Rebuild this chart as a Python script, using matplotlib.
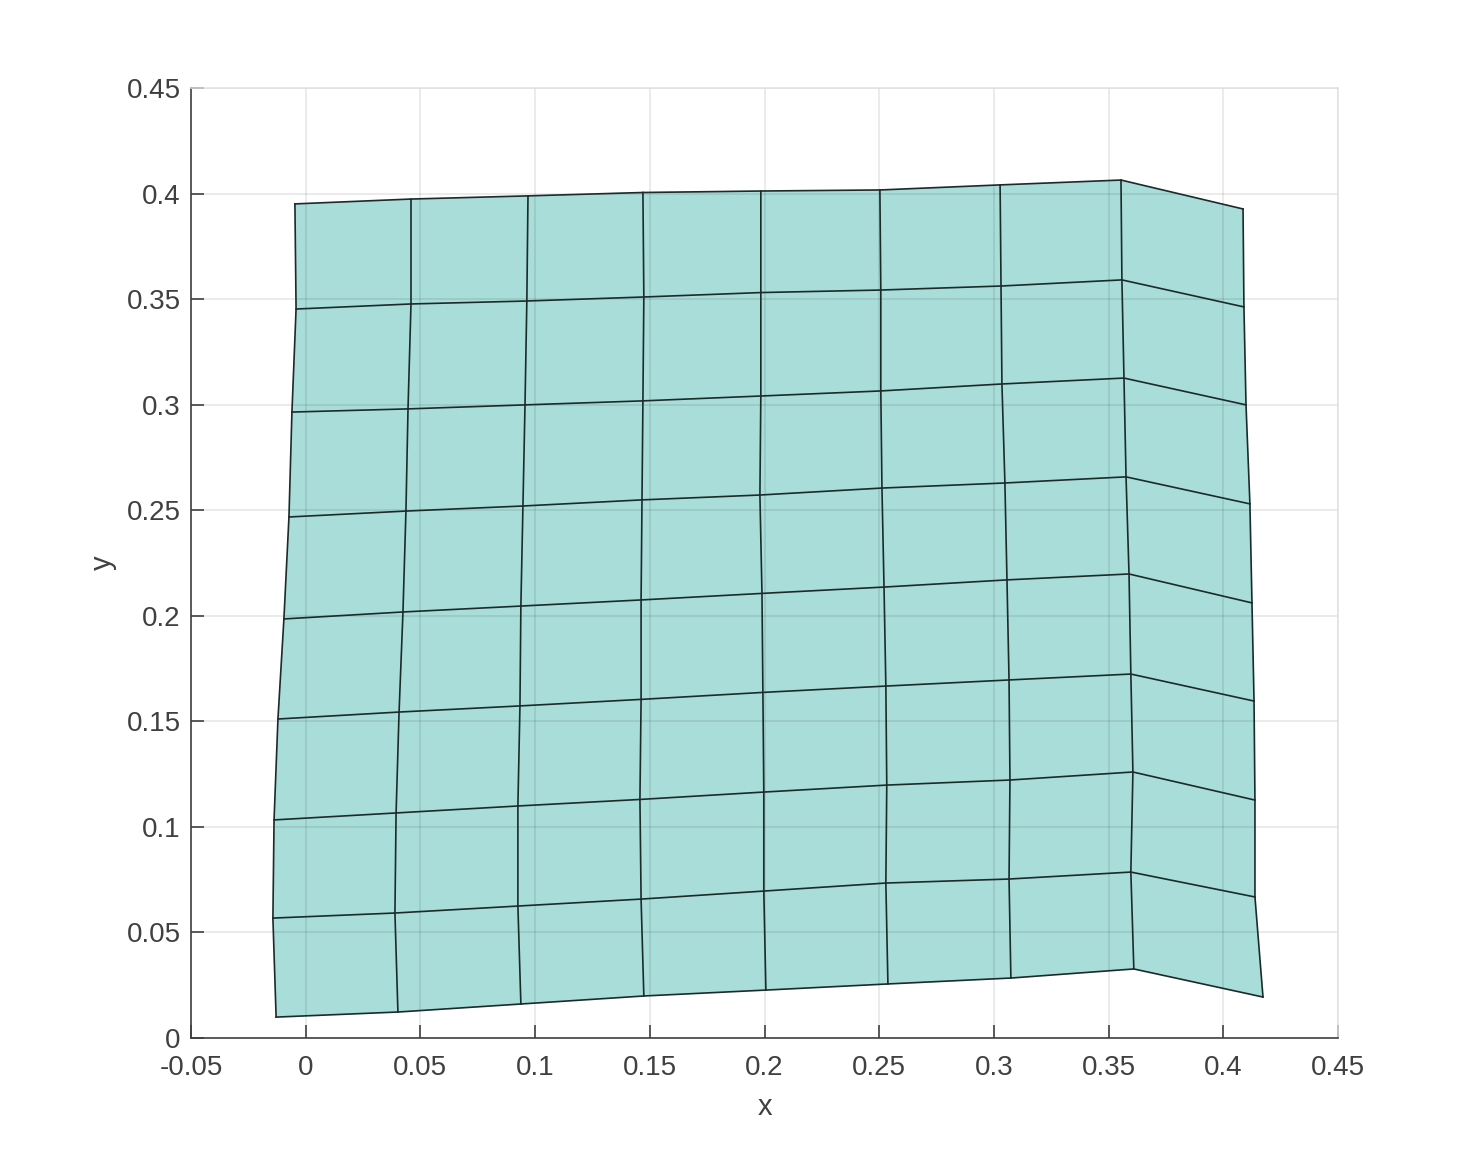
# Deformed quad mesh, nodes
import numpy as np
import matplotlib
matplotlib.use("Agg")
import matplotlib.pyplot as plt
from matplotlib.colors import ListedColormap

plt.rcParams['font.family'] = ['Liberation Sans', 'DejaVu Sans']

# mesh nodes, one row per line of nodes (bottom to top)
x0 = [-0.0129, 0.0402, 0.0938, 0.1474, 0.2006, 0.2538, 0.3074, 0.3610, 0.4173]
x1 = [-0.0143, 0.0389, 0.0925, 0.1462, 0.1997, 0.2529, 0.3066, 0.3597, 0.4138]
x2 = [-0.0138, 0.0394, 0.0925, 0.1457, 0.1997, 0.2533, 0.3070, 0.3606, 0.4138]
x3 = [-0.0121, 0.0407, 0.0934, 0.1462, 0.1993, 0.2529, 0.3066, 0.3597, 0.4134]
x4 = [-0.0095, 0.0424, 0.0938, 0.1462, 0.1989, 0.2521, 0.3057, 0.3589, 0.4125]
x5 = [-0.0073, 0.0437, 0.0947, 0.1466, 0.1980, 0.2512, 0.3048, 0.3576, 0.4116]
x6 = [-0.0060, 0.0446, 0.0956, 0.1470, 0.1984, 0.2507, 0.3035, 0.3567, 0.4099]
x7 = [-0.0042, 0.0459, 0.0964, 0.1474, 0.1984, 0.2507, 0.3031, 0.3558, 0.4090]
x8 = [-0.0047, 0.0459, 0.0969, 0.1470, 0.1984, 0.2503, 0.3027, 0.3554, 0.4086]

y0 = [0.0099, 0.0123, 0.0161, 0.0199, 0.0227, 0.0256, 0.0284, 0.0327, 0.0194]
y1 = [0.0568, 0.0592, 0.0625, 0.0658, 0.0696, 0.0734, 0.0753, 0.0786, 0.0668]
y2 = [0.1033, 0.1066, 0.1099, 0.1130, 0.1165, 0.1198, 0.1222, 0.1260, 0.1127]
y3 = [0.1511, 0.1544, 0.1573, 0.1604, 0.1637, 0.1667, 0.1696, 0.1724, 0.1596]
y4 = [0.1985, 0.2018, 0.2046, 0.2075, 0.2106, 0.2136, 0.2170, 0.2198, 0.2061]
y5 = [0.2468, 0.2496, 0.2520, 0.2549, 0.2572, 0.2605, 0.2629, 0.2658, 0.2530]
y6 = [0.2965, 0.2980, 0.2999, 0.3018, 0.3041, 0.3065, 0.3098, 0.3126, 0.2999]
y7 = [0.3453, 0.3477, 0.3491, 0.3510, 0.3531, 0.3543, 0.3562, 0.3591, 0.3463]
y8 = [0.3951, 0.3974, 0.3989, 0.4005, 0.4012, 0.4017, 0.4041, 0.4064, 0.3927]

xticks = [-0.05, 0, 0.05, 0.1, 0.15, 0.2, 0.25, 0.3, 0.35, 0.4, 0.45]
xticklabels = ['-0.05', '0', '0.05', '0.1', '0.15', '0.2', '0.25', '0.3', '0.35', '0.4', '0.45']
yticks = [0, 0.05, 0.1, 0.15, 0.2, 0.25, 0.3, 0.35, 0.4, 0.45]
yticklabels = ['0', '0.05', '0.1', '0.15', '0.2', '0.25', '0.3', '0.35', '0.4', '0.45']

X = np.array([x0, x1, x2, x3, x4, x5, x6, x7, x8])
Y = np.array([y0, y1, y2, y3, y4, y5, y6, y7, y8])

W, H = 1477, 1166
fig = plt.figure(figsize=(W / 100, H / 100), dpi=100)
ax = fig.add_axes([191 / W, 1 - 1038 / H, (1338 - 191) / W, (1038 - 88) / H])

text_col = '#404040'

# cells, then grid on top of the fill, then the mesh lines
ax.pcolormesh(X, Y, np.zeros((8, 8)), cmap=ListedColormap(['#a8ddd9']), shading='flat',
              linewidth=0, antialiased=True, rasterized=False)
ax.set_axisbelow('line')
ax.grid(True, color='black', alpha=0.10, linewidth=1.1)
ax.plot(X, Y, color='#1c2a2a', linewidth=1.2, solid_joinstyle='miter')
ax.plot(X.T, Y.T, color='#1c2a2a', linewidth=1.2, solid_joinstyle='miter')

ax.set_xlim(-0.05, 0.45)
ax.set_ylim(0, 0.45)
ax.set_xticks(xticks, xticklabels)
ax.set_yticks(yticks, yticklabels)
ax.tick_params(direction='in', length=9.2, width=1.2, color=text_col, labelcolor=text_col,
               labelsize=20, pad=12)
ax.tick_params(axis='y', pad=7.5)

for s in ['top', 'right']:
    ax.spines[s].set_color('#e0e0e0')
    ax.spines[s].set_linewidth(1.1)
for s in ['left', 'bottom']:
    ax.spines[s].set_color(text_col)
    ax.spines[s].set_linewidth(1.2)

ax.set_xlabel('x', fontsize=21, color=text_col, labelpad=9)
ax.set_ylabel('y', fontsize=21, color=text_col, labelpad=7)

fig.savefig('out.png', dpi=100)
